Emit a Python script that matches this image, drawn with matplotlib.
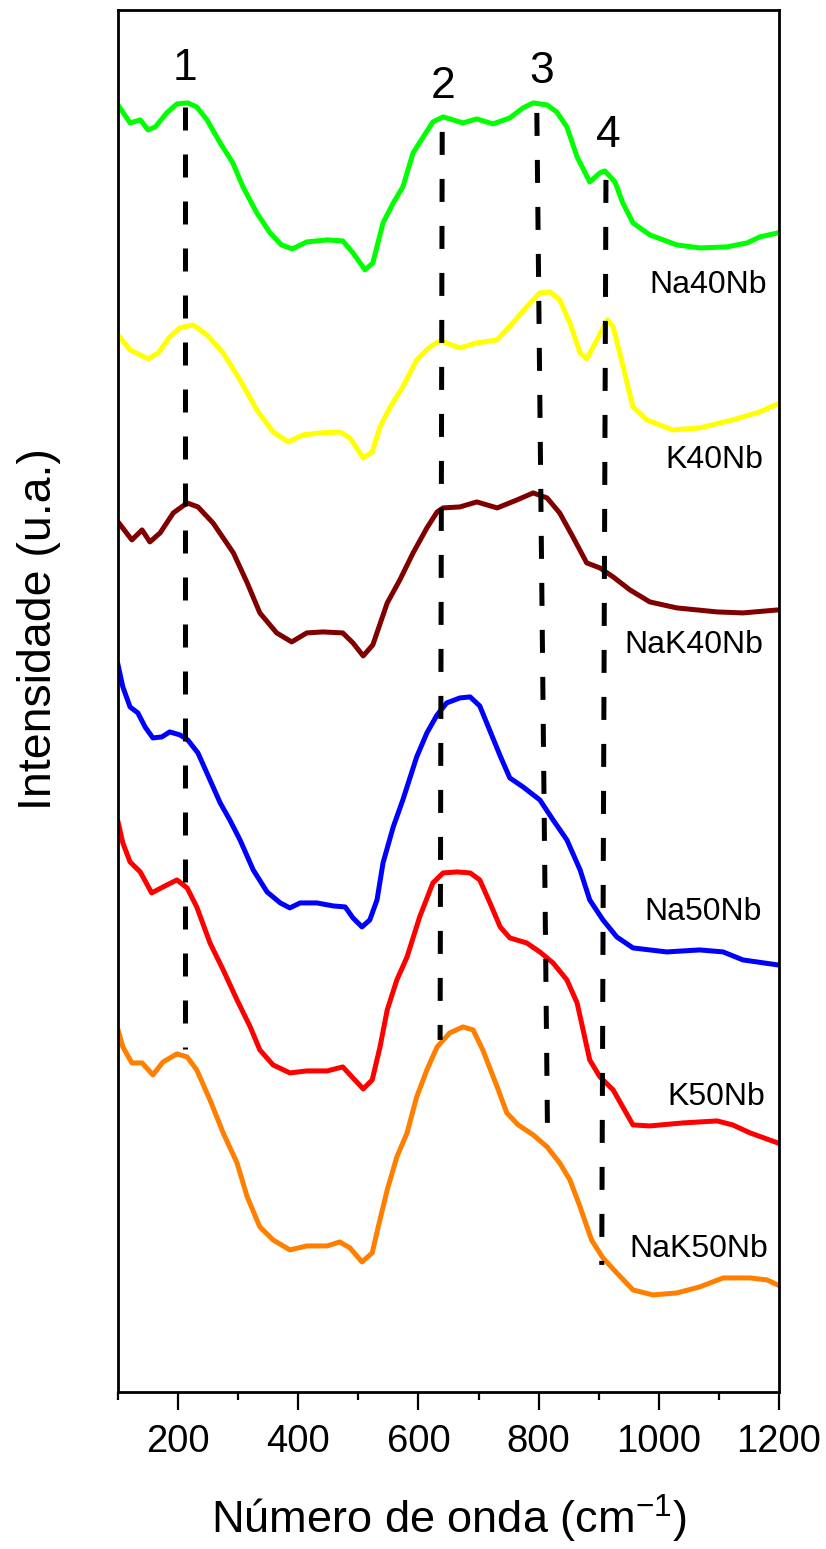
import matplotlib
matplotlib.use("Agg")
import matplotlib.pyplot as plt
from matplotlib.ticker import MultipleLocator

plt.rcParams['font.family'] = ['Liberation Sans', 'DejaVu Sans']
plt.rcParams['mathtext.fontset'] = 'custom'
plt.rcParams['mathtext.rm'] = 'Liberation Sans'
plt.rcParams['mathtext.it'] = 'Liberation Sans:italic'

# Raman spectra (a.u., stacked)
na40_x = [100, 120, 137, 150, 162, 181, 198, 216, 231, 248, 270, 291, 308, 331, 353, 372, 390, 414, 448, 474,
          491, 511, 524, 541, 558, 574, 591, 608, 624, 641, 674, 697, 724, 752, 774, 791, 814, 830, 847, 864,
          885, 902, 910, 927, 940, 957, 985, 1030, 1068, 1113, 1147, 1168, 1198]
na40_y = [1287, 1269, 1272, 1262, 1265, 1279, 1288, 1289, 1285, 1272, 1249, 1229, 1205, 1179, 1159, 1147, 1143, 1150, 1152, 1151,
          1139, 1122, 1129, 1169, 1189, 1205, 1239, 1255, 1270, 1275, 1269, 1273, 1268, 1274, 1284, 1289, 1287, 1280, 1265, 1235,
          1210, 1219, 1221, 1210, 1189, 1169, 1157, 1147, 1144, 1145, 1149, 1155, 1159]

k40_x = [100, 120, 150, 167, 186, 203, 225, 248, 275, 303, 331, 358, 383, 408, 436, 469, 486, 508, 523, 536,
         553, 574, 597, 619, 636, 669, 697, 731, 757, 780, 802, 819, 835, 852, 869, 880, 897, 914, 924, 939,
         957, 980, 1023, 1068, 1123, 1168, 1198]
k40_y = [1057, 1042, 1033, 1039, 1055, 1064, 1067, 1057, 1039, 1012, 982, 960, 950, 957, 959, 960, 954, 934, 940, 965,
         985, 1005, 1032, 1045, 1051, 1044, 1049, 1052, 1069, 1085, 1099, 1100, 1092, 1069, 1039, 1033, 1052, 1072, 1065, 1029,
         985, 972, 962, 964, 972, 980, 988]

nak40_x = [100, 123, 140, 153, 170, 192, 215, 233, 258, 292, 315, 336, 364, 389, 414, 441, 474, 491, 508, 524,
           548, 569, 591, 614, 631, 641, 669, 697, 731, 764, 791, 814, 835, 857, 880, 902, 924, 952, 985, 1030,
           1097, 1140, 1198]
nak40_y = [870, 852, 862, 850, 859, 879, 889, 885, 869, 839, 809, 779, 759, 750, 759, 760, 759, 749, 736, 747,
           789, 812, 839, 864, 880, 884, 885, 890, 884, 892, 899, 894, 879, 855, 829, 824, 815, 802, 790, 784,
           780, 779, 782]

na50_x = [100, 108, 120, 133, 145, 158, 173, 186, 203, 216, 233, 253, 270, 286, 303, 325, 348, 370, 386, 403,
          431, 458, 478, 491, 506, 519, 531, 541, 558, 574, 597, 614, 631, 647, 669, 686, 702, 719, 736, 752,
          774, 802, 824, 847, 869, 885, 907, 930, 957, 1013, 1068, 1107, 1140, 1198]
na50_y = [727, 705, 685, 679, 665, 654, 655, 660, 657, 652, 639, 612, 589, 572, 552, 522, 500, 489, 484, 489,
          489, 486, 485, 474, 465, 472, 492, 529, 565, 592, 635, 659, 677, 689, 694, 695, 686, 661, 636, 614,
          605, 592, 572, 552, 522, 492, 472, 455, 444, 440, 442, 440, 432, 427]

k50_x = [100, 108, 120, 137, 156, 175, 198, 215, 231, 253, 275, 298, 320, 336, 358, 386, 414, 448, 474, 491,
         508, 523, 536, 548, 564, 581, 602, 624, 641, 664, 686, 702, 719, 736, 752, 780, 802, 824, 847, 864,
         885, 902, 924, 940, 957, 985, 1040, 1097, 1123, 1152, 1198]
k50_y = [570, 549, 530, 520, 499, 505, 512, 504, 485, 449, 422, 392, 365, 342, 327, 319, 321, 321, 325, 314,
         303, 312, 345, 382, 412, 435, 475, 509, 519, 520, 519, 512, 489, 465, 454, 449, 440, 429, 412, 389,
         332, 315, 302, 285, 267, 266, 269, 271, 267, 259, 249]

nak50_x = [100, 108, 123, 140, 158, 175, 198, 215, 231, 253, 275, 298, 315, 336, 358, 386, 414, 448, 469, 486,
           506, 523, 533, 548, 564, 581, 597, 614, 631, 652, 674, 691, 707, 731, 747, 766, 791, 814, 835, 852,
           869, 888, 907, 930, 957, 990, 1030, 1068, 1107, 1152, 1180, 1198]
nak50_y = [362, 345, 329, 329, 317, 330, 338, 335, 322, 292, 259, 229, 195, 165, 152, 142, 146, 146, 150, 144,
           130, 139, 165, 202, 235, 259, 295, 322, 345, 359, 365, 362, 342, 305, 279, 267, 257, 245, 229, 212,
           185, 152, 134, 119, 102, 97, 99, 105, 114, 114, 112, 107]

names = ['Na40Nb', 'K40Nb', 'NaK40Nb', 'Na50Nb', 'K50Nb', 'NaK50Nb']
colors = ['#00ff00', '#ffff00', '#800000', '#0000ff', '#ff0000', '#ff8000']
name_x = [1180, 1173, 1173, 1172, 1177, 1182]
name_y = [1099, 924, 739, 472, 287, 135]

# band markers (top x, bottom x, top y, bottom y)
band_ids = ['1', '2', '3', '4']
band_x_top = [211, 639.5, 797, 912]
band_x_bot = [211, 636, 815, 905]
band_y_top = [1285, 1260, 1279, 1212]
band_y_bot = [343, 352, 245, 127]
band_lab_x = [211.5, 641, 805.5, 915.5]
band_lab_y = [1312, 1294, 1309, 1245]

fig = plt.figure(figsize=(8.26, 15.49), dpi=100)
ax = fig.add_axes([0.1429, 0.1014, 0.8002, 0.8922])

curves = [(na40_x, na40_y), (k40_x, k40_y), (nak40_x, nak40_y),
          (na50_x, na50_y), (k50_x, k50_y), (nak50_x, nak50_y)]
for (x, y), c in zip(curves, colors):
    ax.plot(x, y, color=c, lw=3.6, solid_joinstyle='round', zorder=2)

for i in range(4):
    ax.plot([band_x_top[i], band_x_bot[i]], [band_y_top[i], band_y_bot[i]],
            color='black', lw=3.6, dashes=(4.6, 4.8), zorder=3)
    ax.text(band_lab_x[i], band_lab_y[i], band_ids[i], fontsize=32,
            ha='center', va='baseline')

for n, xx, yy in zip(names, name_x, name_y):
    ax.text(xx, yy, n, fontsize=23, ha='right', va='baseline')

ax.set_xlim(100, 1200)
ax.set_ylim(0, 1382)
ax.xaxis.set_major_locator(MultipleLocator(200))
ax.xaxis.set_minor_locator(MultipleLocator(100))
ax.set_yticks([])
ax.tick_params(axis='x', which='major', direction='out', length=13, width=1.6,
               pad=10, labelsize=27.5)
ax.tick_params(axis='x', which='minor', direction='out', length=6, width=1.6)
for s in ax.spines.values():
    s.set_linewidth(2)

ax.set_xlabel('Número de onda (cm$^{\\mathrm{-1}}$)', fontsize=32.5)
ax.xaxis.set_label_coords(0.5, -0.073)
ax.set_ylabel('Intensidade (u.a.)', fontsize=33.5)
ax.yaxis.set_label_coords(-0.087, 0.552)

fig.savefig('out.png', dpi=100)
